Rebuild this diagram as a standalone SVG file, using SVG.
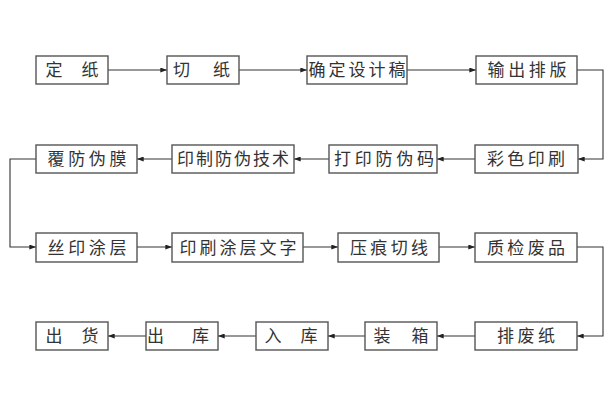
<svg xmlns="http://www.w3.org/2000/svg" width="616" height="411" viewBox="0 0 616 411">
<defs>
<marker id="ah" viewBox="0 0 8 6" refX="8" refY="3" markerWidth="7" markerHeight="5" markerUnits="userSpaceOnUse" orient="auto">
<path d="M0,0 L8,3 L0,6 z" fill="#222"/>
</marker>
<style>
.box{fill:#fff;stroke:#555;stroke-width:1.4}
.t{font-family:"Noto Sans CJK SC","Noto Sans",sans-serif;font-size:17px;fill:#333;text-anchor:middle}
.c{fill:none;stroke:#333;stroke-width:1.1}
.a{marker-end:url(#ah)}
</style>
</defs>
<rect width="616" height="411" fill="#fff"/>
<g id="connectors">
<line class="c a" x1="108" y1="70" x2="167" y2="70"/>
<line class="c a" x1="239" y1="70" x2="307" y2="70"/>
<line class="c a" x1="407" y1="70" x2="476" y2="70"/>
<polyline class="c a" points="577,70 603,70 603,159 578,159"/>
<line class="c a" x1="475" y1="159" x2="437" y2="159"/>
<line class="c a" x1="329" y1="159" x2="294" y2="159"/>
<line class="c a" x1="172" y1="159" x2="137" y2="159"/>
<polyline class="c a" points="36,159 10,159 10,247 36,247"/>
<line class="c a" x1="137" y1="247" x2="172" y2="247"/>
<line class="c a" x1="303" y1="247" x2="338" y2="247"/>
<line class="c a" x1="439" y1="247" x2="475" y2="247"/>
<polyline class="c a" points="577,247 603,247 603,336 577,336"/>
<line class="c a" x1="475" y1="336" x2="437" y2="336"/>
<line class="c a" x1="365" y1="336" x2="328" y2="336"/>
<line class="c a" x1="256" y1="336" x2="218" y2="336"/>
<line class="c a" x1="146" y1="336" x2="108" y2="336"/>
</g>
<g id="n1"><rect class="box" x="36" y="56" width="72" height="28"/><text class="t" x="72" y="76" textLength="53" lengthAdjust="spacing">定　纸</text></g>
<g id="n2"><rect class="box" x="167" y="56" width="72" height="28"/><text class="t" x="201.5" y="76" textLength="57" lengthAdjust="spacing">切　纸</text></g>
<g id="n3"><rect class="box" x="307" y="56" width="100" height="28"/><text class="t" x="357" y="76" textLength="97" lengthAdjust="spacing">确定设计稿</text></g>
<g id="n4"><rect class="box" x="476" y="56" width="101" height="28"/><text class="t" x="527" y="76" textLength="79" lengthAdjust="spacing">输出排版</text></g>
<g id="n5"><rect class="box" x="475" y="145" width="103" height="28"/><text class="t" x="526" y="165" textLength="78" lengthAdjust="spacing">彩色印刷</text></g>
<g id="n6"><rect class="box" x="329" y="145" width="108" height="28"/><text class="t" x="384" y="165" textLength="100" lengthAdjust="spacing">打印防伪码</text></g>
<g id="n7"><rect class="box" x="172" y="145" width="122" height="28"/><text class="t" x="233" y="165" textLength="112" lengthAdjust="spacing">印制防伪技术</text></g>
<g id="n8"><rect class="box" x="36" y="145" width="101" height="28"/><text class="t" x="87" y="165" textLength="79" lengthAdjust="spacing">覆防伪膜</text></g>
<g id="n9"><rect class="box" x="36" y="233" width="101" height="29"/><text class="t" x="87" y="253.5" textLength="79" lengthAdjust="spacing">丝印涂层</text></g>
<g id="n10"><rect class="box" x="172" y="233" width="131" height="29"/><text class="t" x="238" y="253.5" textLength="117" lengthAdjust="spacing">印刷涂层文字</text></g>
<g id="n11"><rect class="box" x="338" y="233" width="101" height="29"/><text class="t" x="389" y="253.5" textLength="78" lengthAdjust="spacing">压痕切线</text></g>
<g id="n12"><rect class="box" x="475" y="233" width="102" height="29"/><text class="t" x="526" y="253.5" textLength="78" lengthAdjust="spacing">质检废品</text></g>
<g id="n13"><rect class="box" x="475" y="322" width="102" height="28"/><text class="t" x="526" y="342" textLength="58" lengthAdjust="spacing">排废纸</text></g>
<g id="n14"><rect class="box" x="365" y="322" width="72" height="28"/><text class="t" x="401" y="342" textLength="55" lengthAdjust="spacing">装　箱</text></g>
<g id="n15"><rect class="box" x="256" y="322" width="72" height="28"/><text class="t" x="291" y="342" textLength="53" lengthAdjust="spacing">入　库</text></g>
<g id="n16"><rect class="box" x="146" y="322" width="72" height="28"/><text class="t" x="178" y="342" textLength="62" lengthAdjust="spacing">出　库</text></g>
<g id="n17"><rect class="box" x="36" y="322" width="72" height="28"/><text class="t" x="72" y="342" textLength="53" lengthAdjust="spacing">出　货</text></g>
</svg>
